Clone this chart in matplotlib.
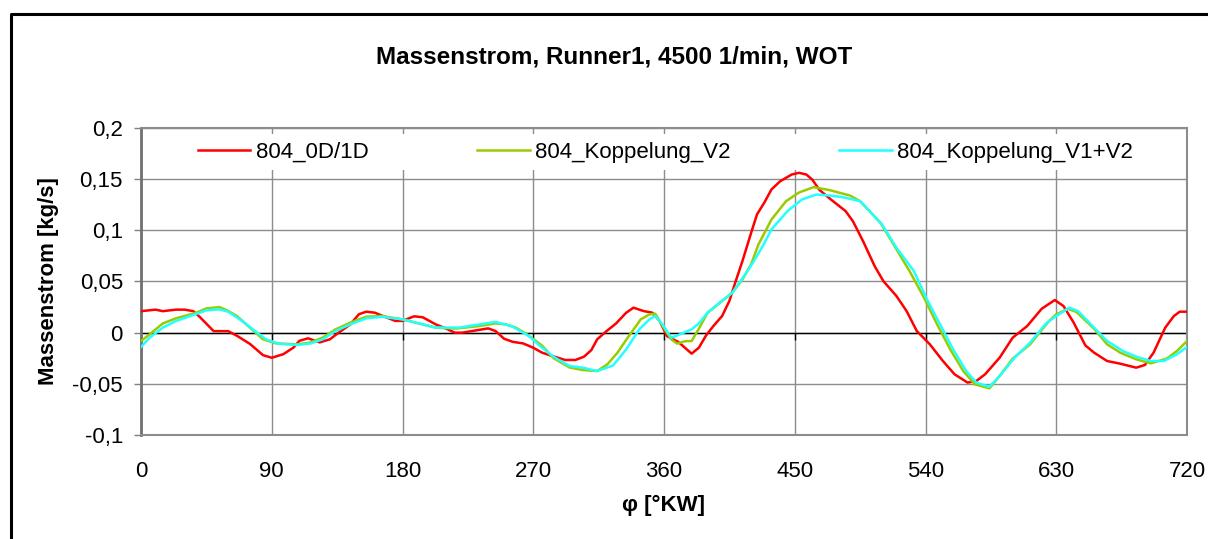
import matplotlib.pyplot as plt
from matplotlib.lines import Line2D
from matplotlib.patches import Rectangle

plt.rcParams['font.family'] = ['Liberation Sans', 'DejaVu Sans']

# Kurbelwinkel [°KW] und Massenstrom [kg/s]
phi_0d1d = [0, 10, 15, 24, 30, 36, 40, 50, 60, 66, 75, 84, 90, 98, 105, 109, 115, 123, 130, 136,
            144, 150, 155, 161, 167, 175, 180, 188, 194, 203, 210, 216, 221, 228, 239, 244, 250,
            256, 263, 270, 276, 283, 292, 299, 305, 310, 314, 320, 327, 334, 339, 346, 352, 357,
            362, 370, 379, 384, 389, 394, 400, 405, 409, 414, 420, 424, 429, 434, 440, 448, 453,
            458, 462, 467, 475, 485, 490, 497, 505, 511, 520, 527, 534, 543, 552, 560, 569, 575,
            581, 591, 600, 610, 620, 629, 635, 642, 650, 656, 665, 674, 685, 691, 697, 705, 711,
            715, 720]
m_0d1d = [0.021, 0.0225, 0.021, 0.0225, 0.0225, 0.021, 0.016, 0.0015, 0.0015, -0.003, -0.011,
          -0.022, -0.0245, -0.021, -0.0145, -0.008, -0.0055, -0.0095, -0.0065, 0.0, 0.008, 0.018,
          0.0205, 0.0195, 0.016, 0.0115, 0.0115, 0.016, 0.015, 0.008, 0.004, 0.0, 0.0, 0.0016,
          0.0042, 0.0016, -0.006, -0.009, -0.0105, -0.0147, -0.0195, -0.0228, -0.0267, -0.0267,
          -0.0234, -0.017, -0.0065, 0.001, 0.009, 0.0195, 0.0244, 0.0211, 0.0195, 0.0114,
          -0.0033, -0.0092, -0.0205, -0.0147, -0.0026, 0.0065, 0.0163, 0.031, 0.0488, 0.07,
          0.0977, 0.1155, 0.127, 0.14, 0.148, 0.1546, 0.1562, 0.1545, 0.1497, 0.1395, 0.130,
          0.1188, 0.109, 0.0895, 0.065, 0.0504, 0.0358, 0.0211, 0.0016, -0.0114, -0.0277,
          -0.0407, -0.0488, -0.0472, -0.0407, -0.0245, -0.0049, 0.0065, 0.0234, 0.0319, 0.026,
          0.0098, -0.0124, -0.0195, -0.0277, -0.0303, -0.0342, -0.0316, -0.0195, 0.0049, 0.0163,
          0.0205, 0.0205]

phi_v2 = [0, 6, 15, 24, 30, 38, 45, 54, 59, 66, 75, 84, 93, 107, 116, 125, 134, 144, 155, 166,
          180, 189, 203, 217, 233, 244, 251, 258, 265, 276, 284, 295, 304, 314, 321, 328, 335,
          344, 350, 354, 359, 365, 369, 375, 379, 384, 390, 400, 407, 414, 420, 425, 434, 444,
          453, 463, 474, 488, 495, 509, 518, 529, 539, 548, 557, 566, 574, 584, 591, 600, 612,
          625, 630, 638, 644, 656, 665, 674, 685, 695, 706, 713, 720]
m_v2 = [-0.0082, -0.0016, 0.009, 0.014, 0.0163, 0.0195, 0.0237, 0.025, 0.022, 0.0163, 0.0049,
        -0.0065, -0.0105, -0.0114, -0.0098, -0.0049, 0.0033, 0.0098, 0.0156, 0.0163, 0.013,
        0.0098, 0.0049, 0.004, 0.0065, 0.009, 0.0081, 0.0049, -0.001, -0.0125, -0.025, -0.034,
        -0.0365, -0.0375, -0.031, -0.0195, -0.0049, 0.013, 0.0179, 0.0185, 0.0065, -0.0065,
        -0.0107, -0.0082, -0.0082, 0.0039, 0.0195, 0.031, 0.039, 0.052, 0.067, 0.0862, 0.1106,
        0.1285, 0.137, 0.1422, 0.1393, 0.134, 0.1285, 0.1074, 0.0862, 0.0602, 0.0342, 0.0081,
        -0.0163, -0.0375, -0.0505, -0.0544, -0.0424, -0.0254, -0.0114, 0.0114, 0.0179, 0.0234,
        0.0201, 0.0039, -0.0114, -0.0195, -0.026, -0.03, -0.0254, -0.018, -0.0082]

phi_v1v2 = [0, 6, 15, 24, 34, 45, 54, 60, 68, 77, 86, 95, 107, 117, 125, 134, 144, 155, 166, 180,
            203, 219, 244, 255, 267, 276, 285, 295, 304, 314, 325, 334, 343, 350, 354, 359, 365,
            371, 379, 384, 390, 400, 407, 416, 421, 428, 434, 445, 455, 465, 474, 483, 495, 510,
            520, 532, 541, 550, 559, 568, 575, 584, 591, 602, 612, 623, 630, 639, 645, 656, 665,
            676, 685, 695, 704, 713, 720]
m_v1v2 = [-0.014, -0.0049, 0.0049, 0.0114, 0.0163, 0.0218, 0.0228, 0.0205, 0.013, 0.0033,
          -0.0065, -0.0108, -0.012, -0.0105, -0.0065, 0.0016, 0.0081, 0.014, 0.0155, 0.013,
          0.005, 0.0049, 0.0105, 0.0065, -0.0033, -0.0147, -0.0245, -0.0326, -0.0342, -0.0375,
          -0.032, -0.0163, 0.0033, 0.013, 0.0163, 0.008, -0.0049, -0.0016, 0.0033, 0.009, 0.0195,
          0.0313, 0.039, 0.057, 0.068, 0.0846, 0.1009, 0.1188, 0.1302, 0.135, 0.134, 0.1324,
          0.1285, 0.1058, 0.083, 0.0602, 0.0325, 0.0081, -0.0163, -0.0375, -0.0488, -0.053,
          -0.0424, -0.0234, -0.0098, 0.009, 0.0163, 0.0244, 0.0211, 0.0049, -0.0082, -0.018,
          -0.0234, -0.0277, -0.0277, -0.0212, -0.014]

x_ticks = [0, 90, 180, 270, 360, 450, 540, 630, 720]
y_ticks = [-0.1, -0.05, 0, 0.05, 0.1, 0.15, 0.2]
y_labels = ['-0,1', '-0,05', '0', '0,05', '0,1', '0,15', '0,2']

W, H = 1208, 539
fig = plt.figure(figsize=(W / 100, H / 100), dpi=100)
ax = fig.add_axes([141 / W, 1 - 435 / H, (1187 - 141) / W, (435 - 128) / H])

ax.set_axisbelow(True)
ax.grid(True, color='#8c8c8c', linewidth=1.0)
ax.axhline(0, color='black', linewidth=1.0, zorder=1.5)
ax.vlines(x_ticks, -0.007, 0, color='black', linewidth=1.0, zorder=1.5)

# weisser Hintergrund der Legende
ax.add_patch(Rectangle((0.004, 0.863), 0.992, 0.117, transform=ax.transAxes,
                       facecolor='white', edgecolor='none', zorder=1))

ax.plot(phi_0d1d, m_0d1d, color='#ff0000', linewidth=1.8, label='804_0D/1D', zorder=3)
ax.plot(phi_v2, m_v2, color='#99cc00', linewidth=1.8, label='804_Koppelung_V2', zorder=3)
ax.plot(phi_v1v2, m_v1v2, color='#22ffff', linewidth=1.8, label='804_Koppelung_V1+V2', zorder=3)

ax.set_xlim(0, 720)
ax.set_ylim(-0.1, 0.2)
ax.set_xticks(x_ticks)
ax.set_xticklabels([str(t) for t in x_ticks])
ax.set_yticks(y_ticks)
ax.set_yticklabels(y_labels)
ax.tick_params(axis='x', length=0, pad=19, labelsize=16)
ax.tick_params(axis='y', length=5, width=1, color='#808080', pad=8, labelsize=16)

for s in ax.spines.values():
    s.set_color('#8c8c8c')
    s.set_linewidth(1.5)
ax.spines['left'].set_linewidth(2.0)
ax.spines['left'].set_color('#707070')

ax.set_xlabel('φ [°KW]', fontsize=16, fontweight='bold')
ax.xaxis.set_label_coords(0.5, (435 - 505) / 307)
ax.xaxis.label.set_va('center')
ax.set_ylabel('Massenstrom [kg/s]', fontsize=16, fontweight='bold')
ax.yaxis.set_label_coords((49 - 141) / 1046, 0.5)
ax.yaxis.label.set_va('center')

leg = ax.legend(loc='center', ncol=3, mode='expand', frameon=False, fontsize=16,
                bbox_to_anchor=((198 - 141) / 1046, 0.92, (1133 - 198) / 1046, 0),
                borderpad=0, borderaxespad=0, handlelength=2.35, handletextpad=0.25)

fig.text(614 / W, 1 - 57 / H, 'Massenstrom, Runner1, 4500 1/min, WOT',
         fontsize=17.5, fontweight='bold', ha='center', va='center')

# Rahmen um das Diagramm
fig.add_artist(Line2D([11 / W, 11 / W, 1.0], [0.0, 1 - 14 / H, 1 - 14 / H],
                      transform=fig.transFigure, color='black', linewidth=2.2))

fig.savefig('out.png', dpi=100)
